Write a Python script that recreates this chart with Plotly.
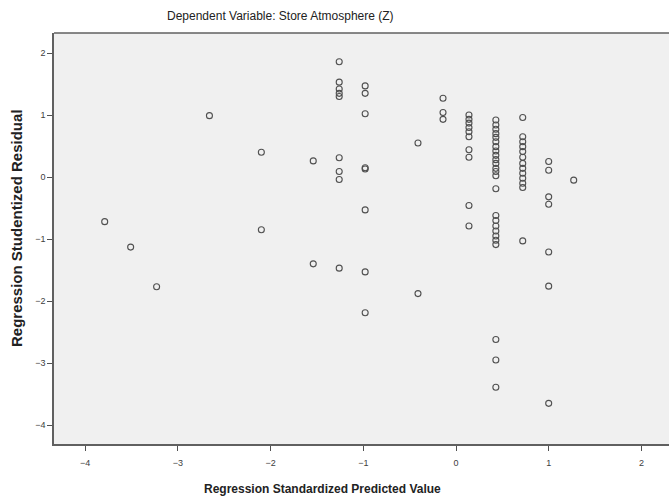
import plotly.graph_objects as go

# Regression standardized predicted value columns and their studentized residuals
col_pred = [-3.79, -3.51, -3.23, -2.66, -2.10, -1.54, -1.26, -0.98, -0.41, -0.14, 0.14, 0.43, 0.72, 1.00, 1.27]
col_resid = [
    [-0.72],
    [-1.13],
    [-1.77],
    [0.99],
    [0.40, -0.85],
    [0.26, -1.40],
    [1.86, 1.53, 1.42, 1.35, 1.30, 0.31, 0.09, -0.04, -1.47],
    [1.47, 1.35, 1.02, 0.15, 0.13, -0.53, -1.53, -2.19],
    [0.55, -1.88],
    [1.27, 1.04, 0.93],
    [1.00, 0.93, 0.87, 0.80, 0.73, 0.65, 0.44, 0.32, -0.46, -0.79],
    [0.92, 0.84, 0.77, 0.70, 0.64, 0.57, 0.49, 0.42, 0.35, 0.28, 0.22, 0.14, 0.09, 0.02,
     -0.19, -0.62, -0.70, -0.79, -0.87, -0.95, -1.02, -1.09, -2.62, -2.95, -3.39],
    [0.96, 0.65, 0.57, 0.49, 0.41, 0.32, 0.22, 0.14, 0.06, -0.02, -0.10, -0.17, -1.03],
    [0.25, 0.11, -0.32, -0.44, -1.21, -1.76, -3.65],
    [-0.05],
]
x_ticks = [-4, -3, -2, -1, 0, 1, 2]
y_ticks = [2, 1, 0, -1, -2, -3, -4]

title_text = "Dependent Variable: Store Atmosphere (Z)"
x_title = "Regression Standardized Predicted Value"
y_title = "Regression Studentized Residual"

xs, ys = [], []
for p, rs in zip(col_pred, col_resid):
    for r in rs:
        xs.append(p)
        ys.append(r)

W, H = 669, 499
L, R, T, B = 54, 0, 33, 55

fig = go.Figure()
fig.add_trace(go.Scatter(
    x=xs, y=ys, mode="markers",
    marker=dict(symbol="circle-open", size=6, color="#505050", line=dict(width=1.1, color="#505050")),
    hoverinfo="x+y", showlegend=False,
))

axis_common = dict(
    showgrid=False, zeroline=False, showline=True, linecolor="#606060", linewidth=1.5,
    ticks="outside", ticklen=5, tickwidth=1, tickcolor="#505050",
    tickfont=dict(family="Liberation Sans, Arial, sans-serif", size=9, color="#404040"),
)
fig.update_layout(
    width=W, height=H,
    margin=dict(l=L, r=R, t=T, b=B),
    paper_bgcolor="white", plot_bgcolor="#f0f0f0",
    xaxis=dict(range=[-4.337, 2.298], tickvals=x_ticks, ticklabelstandoff=4, **axis_common),
    yaxis=dict(range=[-4.306, 2.323], tickvals=y_ticks, **axis_common),
    font=dict(family="Liberation Sans, Arial, sans-serif", color="#222222"),
)
# top frame line
fig.add_shape(type="line", xref="paper", yref="paper", x0=0, x1=1, y0=1, y1=1,
              line=dict(color="#606060", width=1.5))

fig.add_annotation(text=title_text, xref="paper", yref="paper",
                   x=(280 - L) / (W - L - R), y=1 + (T - 16) / (H - T - B),
                   showarrow=False, xanchor="center", yanchor="middle",
                   font=dict(size=12, color="#222222"))
fig.add_annotation(text="<b>" + x_title + "</b>", xref="paper", yref="paper",
                   x=(322 - L) / (W - L - R), y=-(489 - (H - B)) / (H - T - B),
                   showarrow=False, xanchor="center", yanchor="middle",
                   font=dict(size=12, color="#222222"))
fig.add_annotation(text="<b>" + y_title + "</b>", xref="paper", yref="paper",
                   x=-(L - 16) / (W - L - R), y=(H - B - 228) / (H - T - B), textangle=-90,
                   showarrow=False, xanchor="center", yanchor="middle",
                   font=dict(size=15, color="#222222"))

fig.write_html("out.html")
